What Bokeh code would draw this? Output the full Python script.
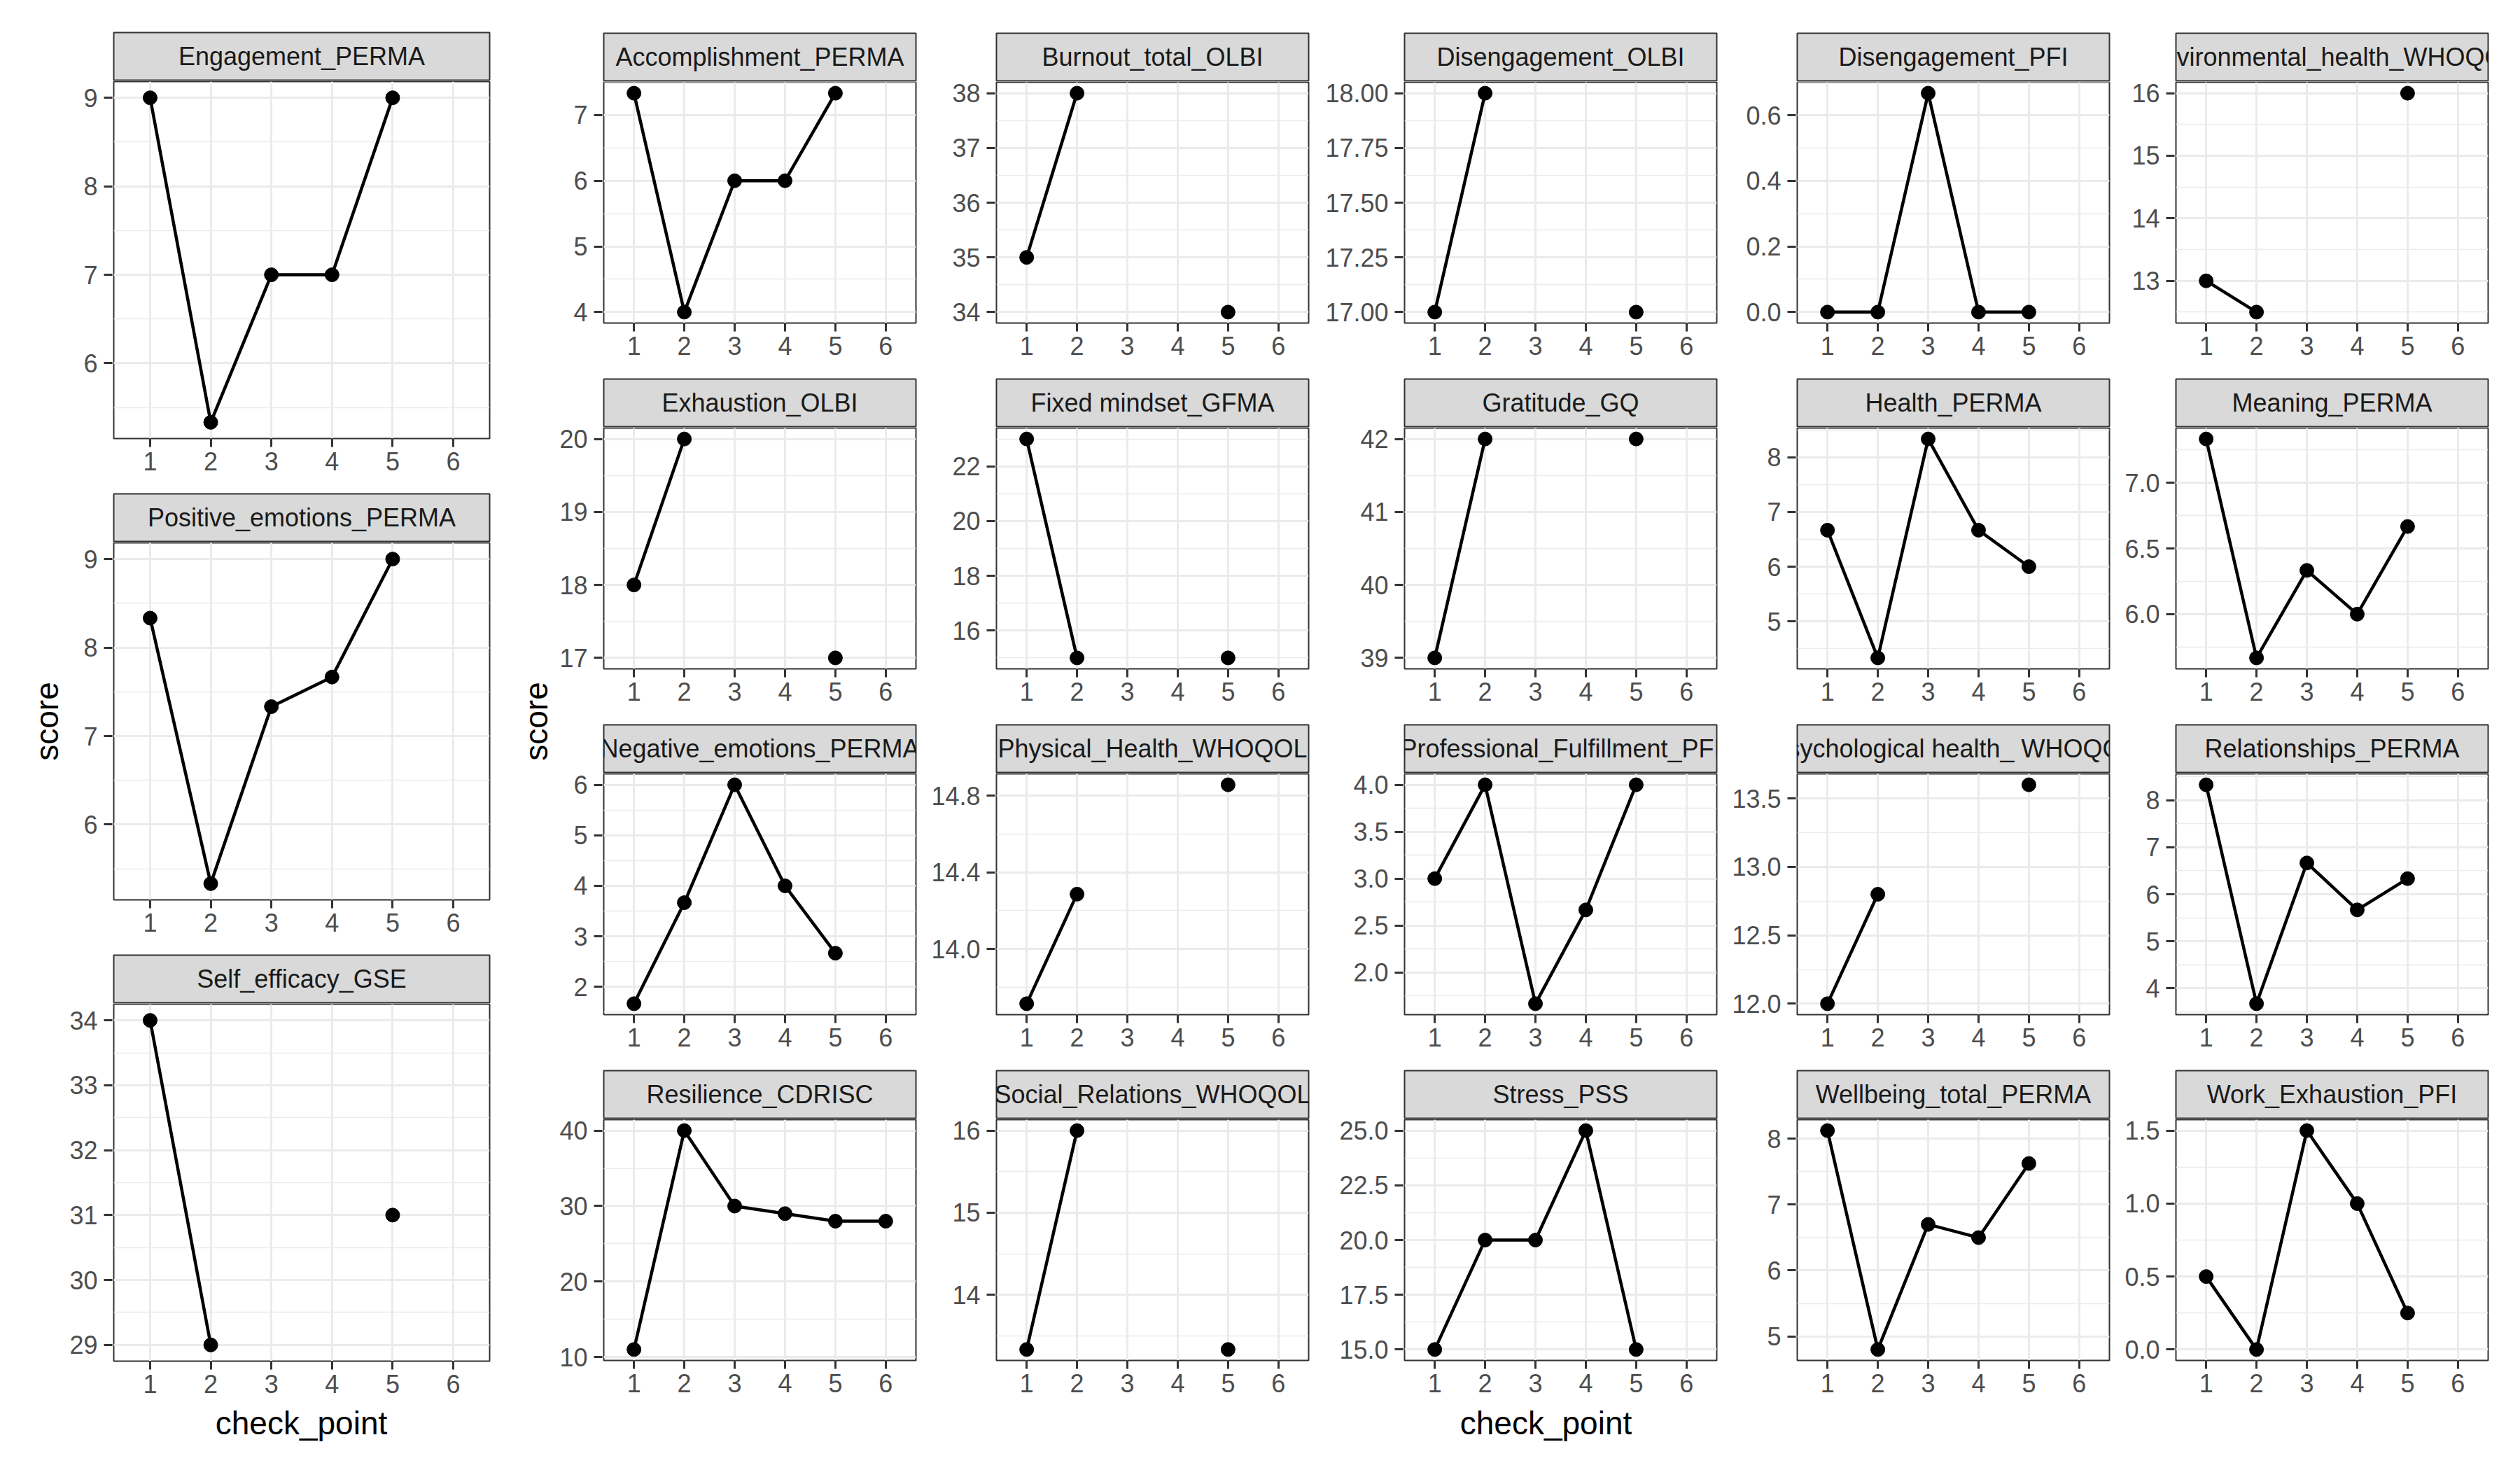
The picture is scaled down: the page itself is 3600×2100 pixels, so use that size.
import math
from bokeh.plotting import figure
from bokeh.models import Range1d, FixedTicker, CustomJSTickFormatter, Label, Grid
from bokeh.layouts import row, column
from bokeh.embed import file_html
from bokeh.resources import INLINE
from bokeh.core.properties import value

nan = float("nan")

# ---------------- data ----------------
check_point = [1, 2, 3, 4, 5, 6]
x_tick_labels = ["1", "2", "3", "4", "5", "6"]

# left facet block
engagement_perma = [9.0, 5.333, 7.0, 7.0, 9.0, nan]
positive_emotions_perma = [8.333, 5.333, 7.333, 7.667, 9.0, nan]
self_efficacy_gse = [34, 29, nan, nan, 31, nan]

# right facet block
accomplishment_perma = [7.333, 4, 6, 6, 7.333, nan]
burnout_total_olbi = [35, 38, nan, nan, 34, nan]
disengagement_olbi = [17, 18, nan, nan, 17, nan]
disengagement_pfi = [0, 0, 0.667, 0, 0, nan]
environmental_health_whoqol = [13, 12.5, nan, nan, 16, nan]
exhaustion_olbi = [18, 20, nan, nan, 17, nan]
fixed_mindset_gfma = [23, 15, nan, nan, 15, nan]
gratitude_gq = [39, 42, nan, nan, 42, nan]
health_perma = [6.667, 4.333, 8.333, 6.667, 6, nan]
meaning_perma = [7.333, 5.667, 6.333, 6, 6.667, nan]
negative_emotions_perma = [1.667, 3.667, 6, 4, 2.667, nan]
physical_health_whoqol = [13.714, 14.286, nan, nan, 14.857, nan]
professional_fulfillment_pfi = [3, 4, 1.667, 2.667, 4, nan]
psychological_health_whoqol = [12, 12.8, nan, nan, 13.6, nan]
relationships_perma = [8.333, 3.667, 6.667, 5.667, 6.333, nan]
resilience_cdrisc = [11, 40, 30, 29, 28, 28]
social_relations_whoqol = [13.333, 16, nan, nan, 13.333, nan]
stress_pss = [15, 20, 20, 25, 15, nan]
wellbeing_total_perma = [8.125, 4.8, 6.7, 6.5, 7.625, nan]
work_exhaustion_pfi = [0.5, 0, 1.5, 1, 0.25, nan]

# y tick values and labels
engagement_ticks = [6, 7, 8, 9]; engagement_labels = ["6", "7", "8", "9"]
positive_ticks = [6, 7, 8, 9]; positive_labels = ["6", "7", "8", "9"]
self_eff_ticks = [29, 30, 31, 32, 33, 34]; self_eff_labels = ["29", "30", "31", "32", "33", "34"]
accomp_ticks = [4, 5, 6, 7]; accomp_labels = ["4", "5", "6", "7"]
burnout_ticks = [34, 35, 36, 37, 38]; burnout_labels = ["34", "35", "36", "37", "38"]
diseng_olbi_ticks = [17, 17.25, 17.5, 17.75, 18]; diseng_olbi_labels = ["17.00", "17.25", "17.50", "17.75", "18.00"]
diseng_pfi_ticks = [0, 0.2, 0.4, 0.6]; diseng_pfi_labels = ["0.0", "0.2", "0.4", "0.6"]
environ_ticks = [13, 14, 15, 16]; environ_labels = ["13", "14", "15", "16"]
exhaust_ticks = [17, 18, 19, 20]; exhaust_labels = ["17", "18", "19", "20"]
fixed_ticks = [16, 18, 20, 22]; fixed_labels = ["16", "18", "20", "22"]
gratitude_ticks = [39, 40, 41, 42]; gratitude_labels = ["39", "40", "41", "42"]
health_ticks = [5, 6, 7, 8]; health_labels = ["5", "6", "7", "8"]
meaning_ticks = [6.0, 6.5, 7.0]; meaning_labels = ["6.0", "6.5", "7.0"]
negative_ticks = [2, 3, 4, 5, 6]; negative_labels = ["2", "3", "4", "5", "6"]
physical_ticks = [14.0, 14.4, 14.8]; physical_labels = ["14.0", "14.4", "14.8"]
profess_ticks = [2.0, 2.5, 3.0, 3.5, 4.0]; profess_labels = ["2.0", "2.5", "3.0", "3.5", "4.0"]
psych_ticks = [12.0, 12.5, 13.0, 13.5]; psych_labels = ["12.0", "12.5", "13.0", "13.5"]
relation_ticks = [4, 5, 6, 7, 8]; relation_labels = ["4", "5", "6", "7", "8"]
resil_ticks = [10, 20, 30, 40]; resil_labels = ["10", "20", "30", "40"]
social_ticks = [14, 15, 16]; social_labels = ["14", "15", "16"]
stress_ticks = [15, 17.5, 20, 22.5, 25]; stress_labels = ["15.0", "17.5", "20.0", "22.5", "25.0"]
wellbeing_ticks = [5, 6, 7, 8]; wellbeing_labels = ["5", "6", "7", "8"]
work_exh_ticks = [0, 0.5, 1.0, 1.5]; work_exh_labels = ["0.0", "0.5", "1.0", "1.5"]

left_panels = [
    ("Engagement_PERMA", engagement_perma, engagement_ticks, engagement_labels),
    ("Positive_emotions_PERMA", positive_emotions_perma, positive_ticks, positive_labels),
    ("Self_efficacy_GSE", self_efficacy_gse, self_eff_ticks, self_eff_labels),
]
right_panels = [
    ("Accomplishment_PERMA", accomplishment_perma, accomp_ticks, accomp_labels),
    ("Burnout_total_OLBI", burnout_total_olbi, burnout_ticks, burnout_labels),
    ("Disengagement_OLBI", disengagement_olbi, diseng_olbi_ticks, diseng_olbi_labels),
    ("Disengagement_PFI", disengagement_pfi, diseng_pfi_ticks, diseng_pfi_labels),
    ("Environmental_health_WHOQOL", environmental_health_whoqol, environ_ticks, environ_labels),
    ("Exhaustion_OLBI", exhaustion_olbi, exhaust_ticks, exhaust_labels),
    ("Fixed mindset_GFMA", fixed_mindset_gfma, fixed_ticks, fixed_labels),
    ("Gratitude_GQ", gratitude_gq, gratitude_ticks, gratitude_labels),
    ("Health_PERMA", health_perma, health_ticks, health_labels),
    ("Meaning_PERMA", meaning_perma, meaning_ticks, meaning_labels),
    ("Negative_emotions_PERMA", negative_emotions_perma, negative_ticks, negative_labels),
    ("Physical_Health_WHOQOL", physical_health_whoqol, physical_ticks, physical_labels),
    ("Professional_Fulfillment_PFI", professional_fulfillment_pfi, profess_ticks, profess_labels),
    ("Psychological health_ WHOQOL", psychological_health_whoqol, psych_ticks, psych_labels),
    ("Relationships_PERMA", relationships_perma, relation_ticks, relation_labels),
    ("Resilience_CDRISC", resilience_cdrisc, resil_ticks, resil_labels),
    ("Social_Relations_WHOQOL", social_relations_whoqol, social_ticks, social_labels),
    ("Stress_PSS", stress_pss, stress_ticks, stress_labels),
    ("Wellbeing_total_PERMA", wellbeing_total_perma, wellbeing_ticks, wellbeing_labels),
    ("Work_Exhaustion_PFI", work_exhaustion_pfi, work_exh_ticks, work_exh_labels),
]

# ---------------- style ----------------
FONT = "Liberation Sans"
TICK_FONT_SIZE = "36px"
STRIP_H = 68
GRID = "#EBEBEB"
BORDER = "#333333"


def y_limits(vals):
    f = [v for v in vals if v == v]
    lo, hi = min(f), max(f)
    pad = 0.05 * (hi - lo)
    return lo - pad, hi + pad


def formatter(tv, tl):
    return CustomJSTickFormatter(args=dict(tv=tv, tl=tl), code="""
        for (let i = 0; i < tv.length; i++) {
            if (Math.abs(tv[i] - tick) < 1e-9) { return tl[i]; }
        }
        return "";
    """)


def style_axis(ax):
    ax.axis_line_color = None
    ax.major_tick_line_color = BORDER
    ax.major_tick_line_width = 3
    ax.major_tick_out = 12
    ax.major_tick_in = 0
    ax.minor_tick_line_color = None
    ax.major_label_text_font = FONT
    ax.major_label_text_font_size = TICK_FONT_SIZE
    ax.major_label_text_color = "#4D4D4D"


def base_fig(**kw):
    f = figure(title=None, toolbar_location=None, output_backend="svg", **kw)
    f.background_fill_color = "white"
    f.border_fill_color = "white"
    return f


def make_cell(name, vals, ticks, labels, fw, fh, axis_w, top, bottom):
    lo, hi = y_limits(vals)
    yr = Range1d(lo, hi)

    # y axis (own canvas, so that top labels may extend beside the strip)
    ax = base_fig(frame_width=1, frame_height=fh, min_border_left=axis_w - 1,
                  min_border_right=0, min_border_top=top + STRIP_H + 2,
                  min_border_bottom=bottom, x_range=Range1d(0, 1), y_range=yr,
                  x_axis_location=None, y_axis_location="left")
    ax.grid.visible = False
    ax.outline_line_color = None
    ax.yaxis.ticker = FixedTicker(ticks=ticks)
    ax.yaxis.formatter = formatter(ticks, labels)
    style_axis(ax.yaxis)
    ax.yaxis.major_label_standoff = 9

    # strip
    strip = base_fig(frame_width=fw, frame_height=STRIP_H, min_border_left=1,
                     min_border_right=2, min_border_top=top, min_border_bottom=1,
                     x_range=Range1d(0, 1), y_range=Range1d(0, 1),
                     x_axis_location=None, y_axis_location=None)
    strip.grid.visible = False
    strip.background_fill_color = "#D9D9D9"
    strip.outline_line_color = BORDER
    strip.outline_line_width = 2
    strip.text(x=[0.5], y=[0.5], text=[name], text_font=value(FONT),
               text_font_size="36px", text_color="#1A1A1A",
               text_align="center", text_baseline="middle")

    # panel
    p = base_fig(frame_width=fw, frame_height=fh, min_border_left=1,
                 min_border_right=2, min_border_top=1, min_border_bottom=bottom,
                 x_range=Range1d(0.4, 6.6), y_range=yr, y_axis_location=None)
    p.outline_line_color = BORDER
    p.outline_line_width = 2

    step = ticks[1] - ticks[0]
    minors = [ticks[0] - step / 2] + [t + step / 2 for t in ticks]
    yt = FixedTicker(ticks=ticks, minor_ticks=minors)
    if len(p.ygrid) == 0:
        p.add_layout(Grid(dimension=1, ticker=yt), "center")
    else:
        p.ygrid.ticker = yt
    p.xaxis.ticker = FixedTicker(ticks=check_point)
    p.xaxis.formatter = formatter(check_point, x_tick_labels)
    style_axis(p.xaxis)
    p.xaxis.major_label_standoff = 7

    p.xgrid.grid_line_color = GRID
    p.xgrid.grid_line_width = 3
    p.ygrid.grid_line_color = GRID
    p.ygrid.grid_line_width = 3
    p.ygrid.minor_grid_line_color = GRID
    p.ygrid.minor_grid_line_width = 1.5

    p.line(check_point, vals, line_color="black", line_width=4.5,
           line_join="round", line_cap="round")
    p.scatter(check_point, vals, size=20, color="black")
    return row(ax, column(strip, p, spacing=0), spacing=0)


def text_fig(w, h, x, y, text, size, angle=0.0):
    f = base_fig(width=w, height=h, x_range=Range1d(0, w), y_range=Range1d(h, 0),
                 min_border=0, x_axis_location=None, y_axis_location=None)
    f.grid.visible = False
    f.outline_line_color = None
    f.add_layout(Label(x=x, y=y, text=text, angle=angle, text_align="center",
                       text_baseline="middle", text_font=FONT,
                       text_font_size=size, text_color="black"))
    return f


TOTAL_H = 2068

# ---------------- left block ----------------
left_items = []
for r, (name, vals, ticks, labels) in enumerate(left_panels):
    top = 46 if r == 0 else 2
    bottom = 77 if r < 2 else 60
    left_items.append(make_cell(name, vals, ticks, labels, 537, 510, 65, top, bottom))
left_items.append(text_fig(605, 64, 334, 28, "check_point", "46px"))
left_block = column(*left_items, spacing=0)

# ---------------- right block ----------------
axis_widths = [65, 112, 134, 112, 92]
right_rows = []
for r in range(4):
    cells = []
    for c in range(5):
        name, vals, ticks, labels = right_panels[r * 5 + c]
        top = 47 if r == 0 else 2
        bottom = 78 if r < 3 else 61
        cells.append(make_cell(name, vals, ticks, labels, 446, 344, axis_widths[c], top, bottom))
    right_rows.append(row(*cells, spacing=0))
right_rows.append(text_fig(2760, 64, 1412, 28, "check_point", "46px"))
right_block = column(*right_rows, spacing=0)

score_left = text_fig(96, TOTAL_H, 66, 1030, "score", "46px", angle=math.pi / 2)
score_right = text_fig(95, TOTAL_H, 64, 1030, "score", "46px", angle=math.pi / 2)

layout = row(score_left, left_block, score_right, right_block, spacing=0)

open("out.html", "w").write(file_html(layout, INLINE))
